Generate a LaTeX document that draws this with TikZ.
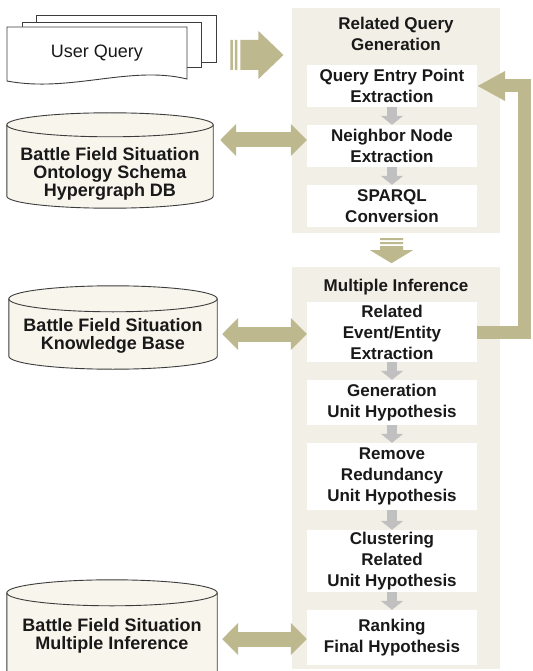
\documentclass[tikz,border=0pt]{standalone}
\usepackage{fontspec}
\setmainfont{Liberation Sans}
\usetikzlibrary{arrows.meta,calc}

\definecolor{khaki}{RGB}{190,184,143}
\definecolor{panelbg}{RGB}{242,239,231}
\definecolor{dbfill}{RGB}{248,245,236}
\definecolor{stepgrey}{RGB}{192,192,192}
\definecolor{edge}{RGB}{60,60,60}
\definecolor{ink}{RGB}{25,25,25}

\newcommand\stepfont{\bfseries\fontsize{17pt}{21pt}\selectfont}
\newcommand\dbfont{\bfseries\fontsize{18pt}{18pt}\selectfont}
\newcommand\queryfont{\fontsize{18pt}{18pt}\selectfont}

% cylinder drawn inside the frame node #1, ellipse half-height #2
\newcommand\drawdb[2]{%
  \path[dbline] let \p1=(#1.north west), \p2=(#1.south east), \n1={(\x2-\x1)/2} in
    ({\x1},{\y1-#2}) -- ({\x1},{\y2+#2})
    arc[start angle=180,end angle=360,x radius=\n1,y radius=#2]
    -- ({\x2},{\y1-#2})
    arc[start angle=0,end angle=180,x radius=\n1,y radius=#2] -- cycle;
  \draw[dbrim] let \p1=(#1.north west), \p2=(#1.south east), \n1={(\x2-\x1)/2} in
    ({\x1},{\y1-#2}) arc[start angle=180,end angle=360,x radius=\n1,y radius=#2];
}

\tikzset{
  panel/.style={fill=panelbg, draw=none, inner sep=0},
  stepbox/.style={fill=white, draw=none, minimum width=170pt, align=center,
    inner sep=0, font=\stepfont, text=ink},
  headtext/.style={align=center, font=\stepfont, text=ink, inner sep=0},
  dbframe/.style={draw=none, inner sep=0},
  dbtext/.style={align=center, font=\dbfont, text=ink, inner sep=0},
  dbline/.style={draw=edge, line width=0.9pt, fill=dbfill},
  dbrim/.style={draw=edge, line width=0.9pt},
  page/.style={draw=edge, line width=0.9pt, fill=white, inner sep=0},
  loopback/.style={draw=khaki, line width=13pt, line join=miter,
    -{Triangle[width=28pt,length=28pt]}},
  dblink/.style={draw=khaki, line width=15pt,
    {Triangle[width=31pt,length=16pt]}-{Triangle[width=31pt,length=16pt]}},
  substep/.style={draw=stepgrey, line width=10pt,
    -{Triangle[width=22pt,length=9pt]}},
}

\begin{document}
\begin{tikzpicture}[x=1pt,y=1pt]
\useasboundingbox (0,0) rectangle (532,-671);
\fill[white] (0,0) rectangle (532,-671);

% ---- user query document stack
\node[page, minimum width=180pt, minimum height=47pt] (uqb) at (126,-38.5) {};
\node[page, minimum width=179pt, minimum height=45pt] (uqm) at (111.5,-44.5) {};
\path[page] (7,-27) -- (187,-27) -- (187,-79)
  .. controls (130,-65) and (70,-93) .. (7,-81) -- cycle;
\node[font=\queryfont, text=ink, inner sep=0] (uq) at (97,-53.5) {User Query};

% ---- databases
\node[dbframe, minimum width=206pt, minimum height=95pt] (db1) at (110,-160.5) {};
\drawdb{db1}{12pt}
\node[dbtext] (db1t) at (110,-174) {Battle Field Situation\\Ontology Schema\\Hypergraph DB};

\node[dbframe, minimum width=208pt, minimum height=83pt] (db2) at (113,-327.5) {};
\drawdb{db2}{13pt}
\node[dbtext] (db2t) at (113,-336) {Battle Field Situation\\Knowledge Base};

\node[dbframe, minimum width=210pt, minimum height=104pt] (db3) at (112,-632) {};
\drawdb{db3}{13pt}
\node[dbtext] (db3t) at (112,-636) {Battle Field Situation\\Multiple Inference};

% ---- related query generation panel
\node[panel, minimum width=208pt, minimum height=225pt] (rqg) at (396,-120.5) {};
\node[headtext] (rqgt) at (396,-33.5) {Related Query\\Generation};
\node[stepbox, minimum height=42pt] (qep) at (392,-86)  {Query Entry Point\\Extraction};
\node[stepbox, minimum height=42pt] (nbr) at (392,-146) {Neighbor Node\\Extraction};
\node[stepbox, minimum height=42pt] (spq) at (392,-206) {SPARQL\\Conversion};

% ---- multiple inference panel
\node[panel, minimum width=208pt, minimum height=402pt] (mi) at (396,-468) {};
\node[headtext] (mit) at (396,-287) {Multiple Inference};
\node[stepbox, minimum height=60pt] (rel)  at (392,-332)   {Related\\Event/Entity\\Extraction};
\node[stepbox, minimum height=45pt] (gen)  at (392,-402.5) {Generation\\Unit Hypothesis};
\node[stepbox, minimum height=67pt] (rem)  at (392,-476.5) {Remove\\Redundancy\\Unit Hypothesis};
\node[stepbox, minimum height=62pt] (clu)  at (392,-561)   {Clustering\\Related\\Unit Hypothesis};
\node[stepbox, minimum height=55pt] (rank) at (392,-637.5) {Ranking\\Final Hypothesis};

% ---- grey step arrows
\draw[substep] (qep.south) -- (nbr.north);
\draw[substep] (nbr.south) -- (spq.north);
\draw[substep] (rel.south) -- (gen.north);
\draw[substep] (gen.south) -- (rem.north);
\draw[substep] (rem.south) -- (clu.north);
\draw[substep] (clu.south) -- (rank.north);

% ---- striped arrow: query into generation
\coordinate (qa) at ($(uqb.east |- uq.center)+(14,-1.5)$);
\fill[khaki, shift={(qa)}]
  (0,-15) rectangle (2.5,15)
  (4.5,-15) rectangle (7,15)
  (10,-15) -- (28,-15) -- (28,-24) -- (53,0) -- (28,24) -- (28,15) -- (10,15) -- cycle;

% ---- striped arrow: generation into inference
\coordinate (da) at ([xshift=-4.5pt,yshift=-5pt]rqg.south);
\fill[khaki, shift={(da)}]
  (-11.5,0) rectangle (11.5,-2)
  (-11.5,-4) rectangle (11.5,-6)
  (-11.5,-8) -- (-11.5,-12) -- (-21.5,-12) -- (0,-25) -- (21.5,-12) -- (11.5,-12) -- (11.5,-8) -- cycle;

% ---- database links
\draw[dblink] ([xshift=7pt,yshift=20.5pt]db1.east) -- ([yshift=6pt]nbr.west);
\draw[dblink] ([xshift=5pt,yshift=-6.5pt]db2.east) -- ([yshift=-2pt]rel.west);
\draw[dblink] ([xshift=5pt,yshift=-7pt]db3.east) -- ([yshift=-1.5pt]rank.west);

% ---- feedback loop
\draw[loopback] (rel.east) -- ++(47,0) |- (qep.east);
\end{tikzpicture}
\end{document}
